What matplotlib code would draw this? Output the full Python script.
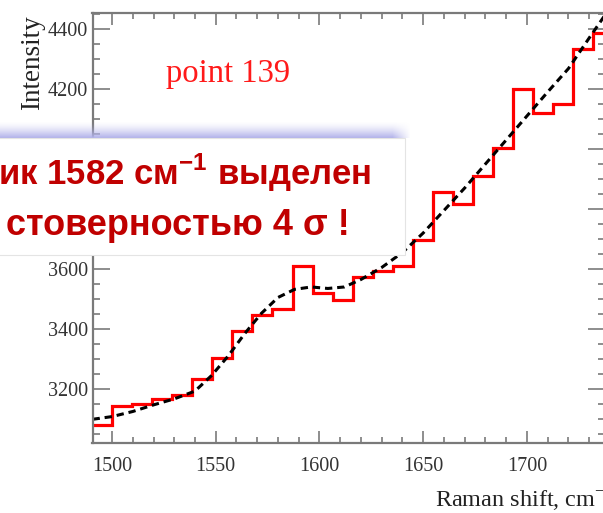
import numpy as np
import matplotlib.pyplot as plt
from matplotlib.patches import Rectangle
from matplotlib.ticker import MultipleLocator

# histogram of the spectrum (bin edges in cm^-1, counts)
bin_edges = [1490.3, 1500.0, 1509.7, 1519.3, 1529.0, 1538.7, 1548.3, 1558.0,
             1567.7, 1577.3, 1587.0, 1596.7, 1606.3, 1616.0, 1625.7, 1635.3,
             1645.0, 1654.7, 1664.3, 1674.0, 1683.7, 1693.3, 1703.0, 1712.7,
             1722.3, 1732.0, 1741.7]
counts = [3080, 3142, 3149, 3166, 3180, 3232, 3302, 3394, 3447, 3467,
          3609, 3521, 3497, 3572, 3594, 3609, 3697, 3858, 3815, 3909,
          4004, 4199, 4120, 4151, 4333, 4388]

# fitted curve (dashed)
fit_x = [1490.6, 1500, 1510, 1520, 1530, 1540, 1548, 1556, 1564, 1572, 1580,
         1588, 1596, 1604, 1612, 1620, 1630, 1640, 1650, 1660, 1670, 1680,
         1690, 1700, 1710, 1720, 1730, 1738]
fit_y = [3099, 3108, 3125, 3147, 3167, 3193, 3245, 3310, 3385, 3452, 3505,
         3532, 3540, 3535, 3540, 3565, 3605, 3655, 3720, 3795, 3870, 3950,
         4030, 4110, 4190, 4268, 4370, 4450]

plt.rcParams['mathtext.fontset'] = 'custom'
plt.rcParams['mathtext.rm'] = 'Liberation Serif'
plt.rcParams['mathtext.bf'] = 'Liberation Sans:bold'

W, H = 603, 513
fig = plt.figure(figsize=(W / 100, H / 100), dpi=100)
ax = fig.add_axes([92.5 / W, 70 / H, (605 - 92.5) / W, 430 / H])

ax.stairs(counts, bin_edges, baseline=None, color='#ff0000', lw=2.3)
ax.plot(fit_x, fit_y, color='black', lw=2.2, dashes=(2.4, 1.6))

ax.set_xlim(1490.6, 1737.6)
ax.set_ylim(3020, 4453)
ax.xaxis.set_major_locator(MultipleLocator(50))
ax.xaxis.set_minor_locator(MultipleLocator(10))
ax.yaxis.set_major_locator(MultipleLocator(200))
ax.yaxis.set_minor_locator(MultipleLocator(50))

gray = '#7a7a7a'
for s in ax.spines.values():
    s.set_color(gray)
    s.set_linewidth(1.6)
ax.tick_params(which='both', direction='in', top=True, right=True,
               color=gray, width=1.2, labelcolor='#333333')
ax.tick_params(axis='x', which='major', length=8.5, pad=10)
ax.tick_params(axis='x', which='minor', length=4.5)
ax.tick_params(axis='y', which='major', length=12, pad=3)
ax.tick_params(axis='y', which='minor', length=5)
for lab in ax.get_xticklabels() + ax.get_yticklabels():
    lab.set_fontfamily('Liberation Serif')
    lab.set_fontsize(14.5)

# overlay in pixel coordinates for titles and the slide box
ov = fig.add_axes([0, 0, 1, 1], zorder=5)
ov.set_axis_off()

ov.text(33, 63, 'Intensity', rotation=90, ha='center', va='center',
        family='Liberation Serif', fontsize=19.5, color='#222222')
ov.text(435, 508, 'Raman shift, cm$^{-1}$', ha='left', va='baseline',
        family='Liberation Serif', fontsize=17.5, color='#222222')
ov.text(166, 82, 'point 139', ha='left', va='baseline',
        family='Liberation Serif', fontsize=23.5, color='#ff1a1a')

# lavender shadow above the box
ny, nx = 30, 420
shade = np.zeros((ny, nx, 4))
shade[..., 0] = 0.70
shade[..., 1] = 0.70
shade[..., 2] = 0.92
va = np.linspace(0, 1, ny) ** 1.5
ha = np.clip((410 - np.arange(nx)) / 18.0, 0, 1)
shade[..., 3] = va[:, None] * ha[None, :]
ov.imshow(shade, extent=(0, nx, 138, 121), origin='upper', aspect='auto',
          interpolation='bilinear')

ov.add_patch(Rectangle((-5, 138), 410, 117, facecolor='white',
                       edgecolor='#e4e4e4', lw=0.8))

red = '#c00000'
ov.text(371, 185, 'ик 1582 см$^{\\mathbf{-1}}$ выделен', ha='right',
        va='baseline', family='Liberation Sans', weight='bold',
        fontsize=25, color=red)
ov.text(350, 235, 'стоверностью 4 σ !', ha='right', va='baseline',
        family='Liberation Sans', weight='bold', fontsize=26, color=red)

ov.set_xlim(0, W)
ov.set_ylim(H, 0)

fig.savefig('out.png', dpi=100)
